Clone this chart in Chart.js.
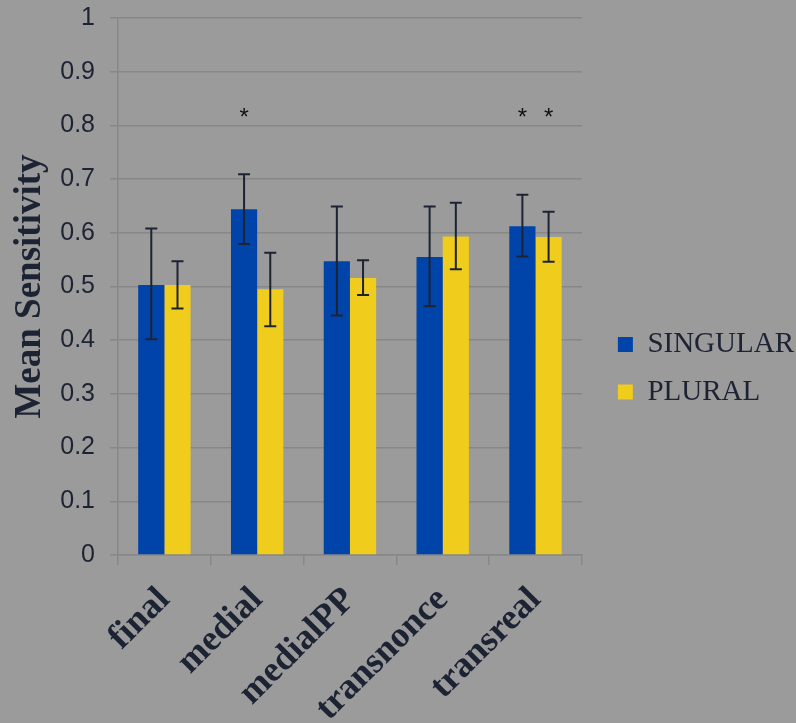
<!DOCTYPE html>
<html>
<head>
<meta charset="utf-8">
<script src="https://cdn.jsdelivr.net/npm/chart.js@4"></script>
<style>
  html, body { margin: 0; padding: 0; background: #9b9b9b; }
  #wrap { width: 796px; height: 723px; position: relative; }
</style>
</head>
<body>
<div id="wrap"><canvas id="c" width="796" height="723"></canvas></div>
<script>
// Mean sensitivity per condition, singular vs plural
const categories = ['final', 'medial', 'medialPP', 'transnonce', 'transreal'];
const singular = [0.503, 0.644, 0.547, 0.555, 0.612];
const plural   = [0.503, 0.495, 0.516, 0.593, 0.592];

// error bar extents (lower / upper)
const singularLow  = [0.402, 0.579, 0.446, 0.463, 0.556];
const singularHigh = [0.608, 0.709, 0.649, 0.649, 0.671];
const pluralLow    = [0.459, 0.426, 0.484, 0.532, 0.546];
const pluralHigh   = [0.547, 0.563, 0.549, 0.656, 0.639];

// significance markers: which series / category gets an asterisk
const starSeries = [0, 0, 1];
const starIndex  = [1, 4, 4];
const starLevel  = 0.827;

const yMin = 0, yMax = 1, yStep = 0.1;

const TEXT = '#1c2333';
const GRID = '#878787';
const SERIF = '"Liberation Serif", "Times New Roman", serif';
const SANS = '"Liberation Sans", Arial, sans-serif';

const errorBars = {
  id: 'errorBars',
  afterDatasetsDraw(chart) {
    const ctx = chart.ctx;
    const y = chart.scales.y;
    const lows = [singularLow, pluralLow];
    const highs = [singularHigh, pluralHigh];
    ctx.save();
    ctx.strokeStyle = TEXT;
    ctx.lineWidth = 2;
    chart.data.datasets.forEach((ds, di) => {
      const meta = chart.getDatasetMeta(di);
      meta.data.forEach((bar, i) => {
        const x = bar.x;
        const yl = y.getPixelForValue(lows[di][i]);
        const yh = y.getPixelForValue(highs[di][i]);
        const cap = 6;
        ctx.beginPath();
        ctx.moveTo(x, yl); ctx.lineTo(x, yh);
        ctx.moveTo(x - cap, yl); ctx.lineTo(x + cap, yl);
        ctx.moveTo(x - cap, yh); ctx.lineTo(x + cap, yh);
        ctx.stroke();
      });
    });
    ctx.restore();
  }
};

const stars = {
  id: 'stars',
  afterDatasetsDraw(chart) {
    const ctx = chart.ctx;
    const y = chart.scales.y.getPixelForValue(starLevel);
    ctx.save();
    ctx.fillStyle = '#111111';
    ctx.font = '24px ' + SANS;
    ctx.textAlign = 'center';
    ctx.textBaseline = 'alphabetic';
    starSeries.forEach((s, k) => {
      const bar = chart.getDatasetMeta(s).data[starIndex[k]];
      ctx.fillText('*', bar.x, y + 14);
    });
    ctx.restore();
  }
};

new Chart(document.getElementById('c'), {
  type: 'bar',
  data: {
    labels: categories,
    datasets: [
      { label: 'SINGULAR', data: singular, backgroundColor: '#0044aa', borderWidth: 0 },
      { label: 'PLURAL', data: plural, backgroundColor: '#f0cc1c', borderWidth: 0 }
    ]
  },
  options: {
    responsive: false,
    animation: false,
    devicePixelRatio: 1,
    layout: { padding: { top: 18, bottom: 4.5, left: 11.5, right: -8 } },
    datasets: { bar: { categoryPercentage: 0.565, barPercentage: 1 } },
    plugins: {
      legend: {
        position: 'right',
        maxWidth: 260,
        labels: {
          boxWidth: 15,
          boxHeight: 15,
          padding: 18.5,
          color: TEXT,
          font: { family: SERIF, size: 29 }
        }
      },
      tooltip: { enabled: false }
    },
    scales: {
      x: {
        grid: { display: true, drawOnChartArea: false, drawTicks: true, tickLength: 10, color: GRID, lineWidth: 1.5, offset: true },
        border: { display: true, color: GRID, width: 1.5 },
        ticks: {
          color: TEXT,
          minRotation: 45,
          maxRotation: 45,
          padding: 14,
          font: { family: SERIF, size: 36, weight: 'bold' }
        },
        afterFit(scale) { scale.height = 163.5; }
      },
      y: {
        min: yMin,
        max: yMax,
        grid: { color: GRID, lineWidth: 1.5, tickLength: 8 },
        border: { display: true, color: GRID, width: 1.5 },
        ticks: {
          stepSize: yStep,
          padding: 15,
          color: TEXT,
          font: { family: SANS, size: 25 },
          callback: v => Math.round(v * 10) / 10
        },
        title: {
          display: true,
          text: 'Mean Sensitivity',
          color: TEXT,
          padding: { top: 0, bottom: -3.25 },
          font: { family: SERIF, size: 37, weight: 'bold', lineHeight: 1 }
        },
        afterFit(scale) { scale.paddingTop = 12; scale.paddingBottom = 12; }
      },
      gap: {
        type: 'linear',
        position: 'right',
        display: true,
        grid: { display: false },
        border: { display: false },
        ticks: { display: false },
        afterFit(scale) { scale.width = 17.5; }
      }
    }
  },
  plugins: [errorBars, stars]
});
</script>
</body>
</html>
